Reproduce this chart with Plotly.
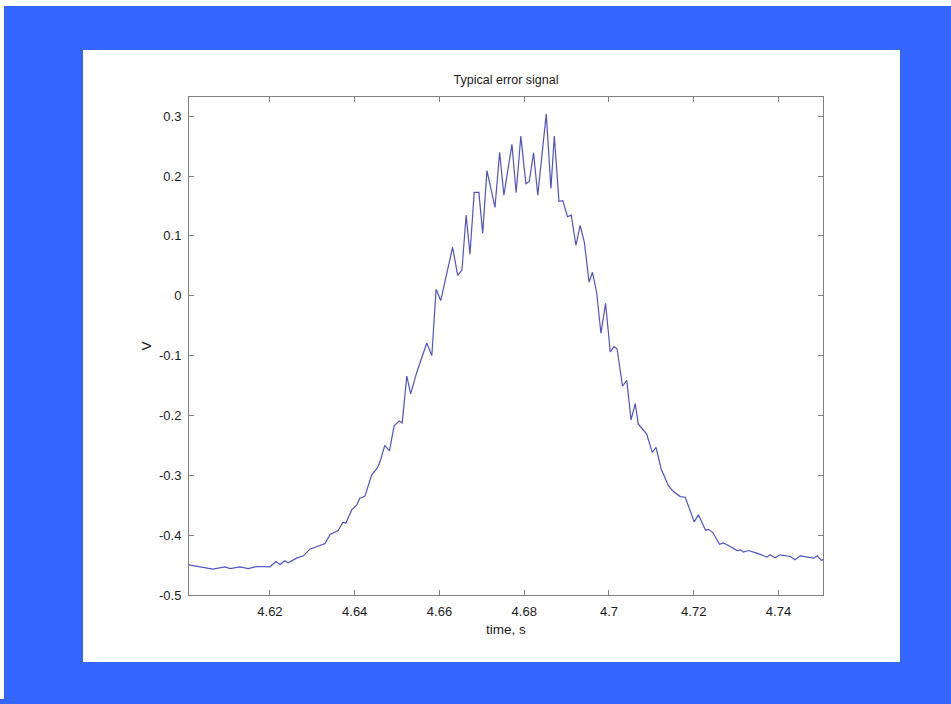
import plotly.graph_objects as go

# Sampled error signal (time in seconds, voltage in volts)
time_s = [
    4.6009, 4.6043, 4.6065, 4.6094, 4.6106, 4.6129, 4.6149, 4.6169, 4.6200, 4.6214,
    4.6224, 4.6235, 4.6243, 4.6263, 4.6279, 4.6294, 4.6310, 4.6330, 4.6342, 4.6361,
    4.6372, 4.6379, 4.6393, 4.6405, 4.6412, 4.6424, 4.6440, 4.6453, 4.6460, 4.6471,
    4.6482, 4.6493, 4.6505, 4.6512, 4.6523, 4.6532, 4.6546, 4.6570, 4.6582, 4.6592,
    4.6603, 4.6631, 4.6643, 4.6653, 4.6663, 4.6672, 4.6682, 4.6693, 4.6702, 4.6712,
    4.6731, 4.6742, 4.6752, 4.6771, 4.6781, 4.6792, 4.6804, 4.6812, 4.6822, 4.6832,
    4.6852, 4.6863, 4.6871, 4.6882, 4.6891, 4.6902, 4.6911, 4.6922, 4.6932, 4.6942,
    4.6953, 4.6961, 4.6971, 4.6981, 4.6992, 4.7003, 4.7012, 4.7019, 4.7032, 4.7042,
    4.7052, 4.7062, 4.7069, 4.7089, 4.7102, 4.7111, 4.7123, 4.7140, 4.7152, 4.7168,
    4.7180, 4.7201, 4.7211, 4.7228, 4.7235, 4.7245, 4.7261, 4.7270, 4.7286, 4.7302,
    4.7310, 4.7317, 4.7329, 4.7349, 4.7373, 4.7380, 4.7392, 4.7404, 4.7428, 4.7439,
    4.7451, 4.7483, 4.7491, 4.7502, 4.7505,
]
voltage_v = [
    -0.4496, -0.4541, -0.4568, -0.4529, -0.4558, -0.4529, -0.4558, -0.4524, -0.4529, -0.4441,
    -0.4491, -0.4429, -0.4462, -0.4384, -0.4346, -0.4234, -0.4190, -0.4140, -0.3990, -0.3923,
    -0.3783, -0.3800, -0.3578, -0.3494, -0.3382, -0.3352, -0.2993, -0.2881, -0.2771, -0.2501,
    -0.2593, -0.2175, -0.2092, -0.2125, -0.1344, -0.1641, -0.1290, -0.0790, -0.0998, 0.0107,
    -0.0080, 0.0810, 0.0341, 0.0429, 0.1347, 0.0693, 0.1726, 0.1726, 0.1042, 0.2090,
    0.1476, 0.2396, 0.1681, 0.2528, 0.1720, 0.2666, 0.1865, 0.1915, 0.2387, 0.1681,
    0.3038, 0.1793, 0.2666, 0.1576, 0.1589, 0.1319, 0.1347, 0.0841, 0.1175, 0.0888,
    0.0225, 0.0392, 0.0053, -0.0628, -0.0127, -0.0940, -0.0851, -0.0886, -0.1513, -0.1412,
    -0.2075, -0.1803, -0.2142, -0.2312, -0.2618, -0.2534, -0.2890, -0.3169, -0.3272, -0.3356,
    -0.3366, -0.3778, -0.3661, -0.3917, -0.3903, -0.3957, -0.4154, -0.4129, -0.4190, -0.4257,
    -0.4245, -0.4284, -0.4257, -0.4300, -0.4367, -0.4329, -0.4379, -0.4329, -0.4357, -0.4412,
    -0.4346, -0.4384, -0.4346, -0.4424, -0.4404,
]

x_tick_vals = [4.62, 4.64, 4.66, 4.68, 4.70, 4.72, 4.74]
x_tick_text = ["4.62", "4.64", "4.66", "4.68", "4.7", "4.72", "4.74"]
y_tick_vals = [0.3, 0.2, 0.1, 0.0, -0.1, -0.2, -0.3, -0.4, -0.5]
y_tick_text = ["0.3", "0.2", "0.1", "0", "-0.1", "-0.2", "-0.3", "-0.4", "-0.5"]

title_text = "Typical error signal"
x_title = "time, s"
y_title = "V"

# Page geometry (pixels)
W, H = 951, 704
L, R, T, B = 189, 823, 97, 595   # plot-area edges
SLIDE_BLUE = "#3366ff"
AXIS_GREY = "#808080"
FONT = "Liberation Sans, Arial, sans-serif"


def px_x(p):
    return (p - L) / (R - L)


def px_y(p):
    return (B - p) / (B - T)


def rect(x0, y0, x1, y1, color):
    return dict(type="rect", xref="paper", yref="paper", layer="below",
                x0=px_x(x0), x1=px_x(x1), y0=px_y(y1), y1=px_y(y0),
                fillcolor=color, line=dict(width=0))


fig = go.Figure(go.Scatter(
    x=time_s, y=voltage_v, mode="lines",
    line=dict(color="#5252c8", width=1.2),
    hoverinfo="skip", showlegend=False,
))

axis_common = dict(
    showline=True, linecolor=AXIS_GREY, linewidth=1, mirror="ticks",
    ticks="inside", ticklen=5, tickcolor=AXIS_GREY, tickwidth=1,
    showgrid=False, zeroline=False,
    tickfont=dict(family=FONT, size=13, color="#1a1a1a"),
)

fig.update_layout(
    width=W, height=H,
    margin=dict(l=L, r=W - R, t=T, b=H - B, pad=0),
    paper_bgcolor=SLIDE_BLUE,
    plot_bgcolor="white",
    title=dict(text=title_text, x=0.5, xref="paper", xanchor="center",
               y=1 - 80 / H, yanchor="middle",
               font=dict(family=FONT, size=12.5, color="#1a1a1a")),
    xaxis=dict(range=[4.6009, 4.7505], tickvals=x_tick_vals, ticktext=x_tick_text,
               ticklabelstandoff=4,
               title=dict(text=x_title, standoff=6,
                          font=dict(family=FONT, size=13.5, color="#1a1a1a")),
               **axis_common),
    yaxis=dict(range=[-0.5, 0.332], tickvals=y_tick_vals, ticktext=y_tick_text,
               ticklabelstandoff=4,
               title=dict(text=y_title, standoff=4,
                          font=dict(family=FONT, size=13.5, color="#1a1a1a")),
               **axis_common),
    shapes=[
        rect(83, 50, 900, 662, "white"),   # figure panel
        rect(0, 0, W, 6, "white"),         # top edge strip
        rect(0, 2, 4, 699, "white"),       # left edge strip
    ],
)

fig.write_html("out.html")
